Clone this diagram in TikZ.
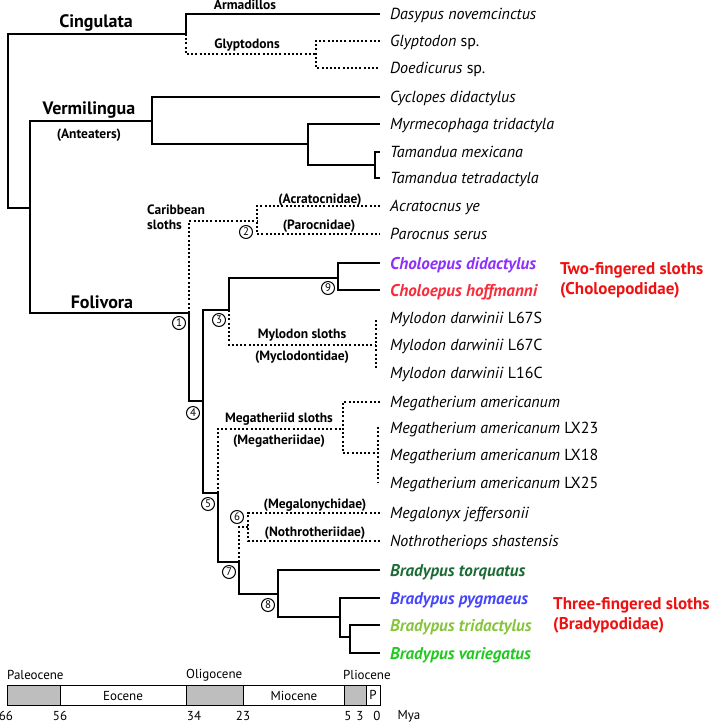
\documentclass[tikz,border=0pt]{standalone}
\usepackage{fontspec}
\setmainfont{PT Sans}
\definecolor{cpurple}{HTML}{8E2EFF}
\definecolor{cred}{HTML}{F72D3C}
\definecolor{lred}{HTML}{EE1111}
\definecolor{bdark}{HTML}{1B6B35}
\definecolor{bblue}{HTML}{4545FF}
\definecolor{bylw}{HTML}{86C43C}
\definecolor{bgreen}{HTML}{1FC91F}
\definecolor{pgray}{HTML}{BEBEBE}
\newcommand\spfont{\fontsize{16}{18}\selectfont\itshape}
\newcommand\bspfont{\fontsize{17}{19}\selectfont\itshape\bfseries}
\newcommand\bigfont{\fontsize{18}{21}\selectfont\bfseries}
\newcommand\smfont{\fontsize{13.5}{15}\selectfont\bfseries}
\newcommand\tmfont{\fontsize{13}{15}\selectfont}
\tikzset{
  br/.style={line width=2.2pt},
  dt/.style={line width=2pt, dash pattern=on 2pt off 2.2pt},
  sp/.style={anchor=base west, inner sep=0pt, font=\spfont},
  bsp/.style={anchor=base west, inner sep=0pt, font=\bspfont},
  big/.style={inner sep=0pt, font=\bigfont},
  sm/.style={inner sep=0pt, font=\smfont},
  circ/.style={circle, draw, line width=1pt, minimum size=13pt, inner sep=0pt, font=\fontsize{11}{11}\selectfont},
  rl/.style={anchor=base west, inner sep=0pt, font=\fontsize{17}{20}\selectfont\bfseries, text=lred},
  tm/.style={inner sep=0pt, font=\tmfont},
  per/.style={draw, line width=0.8pt}
}
\begin{document}
\begin{tikzpicture}[x=1pt,y=-1pt]
\useasboundingbox (0,0) rectangle (709,724);
% species labels
\node[sp] (s0) at (390,19.5) {Dasypus novemcinctus};
\node[sp] (s1) at (390,46.5) {Glyptodon \textup{sp.}};
\node[sp] (s2) at (390,73.5) {Doedicurus \textup{sp.}};
\node[sp] (s3) at (390,102.5) {Cyclopes didactylus};
\node[sp] (s4) at (390,129.5) {Myrmecophaga tridactyla};
\node[sp] (s5) at (390,157.5) {Tamandua mexicana};
\node[sp] (s6) at (390,183.5) {Tamandua tetradactyla};
\node[sp] (s7) at (390,211.5) {Acratocnus ye};
\node[sp] (s8) at (390,239.5) {Parocnus serus};
\node[bsp,text=cpurple] (s9) at (390,269) {Choloepus didactylus};
\node[bsp,text=cred] (s10) at (390,296) {Choloepus hoffmanni};
\node[sp] (s11) at (390,323.5) {Mylodon darwinii \textup{L67S}};
\node[sp] (s12) at (390,350.5) {Mylodon darwinii \textup{L67C}};
\node[sp] (s13) at (390,378.5) {Mylodon darwinii \textup{L16C}};
\node[sp] (s14) at (390,407.5) {Megatherium americanum};
\node[sp] (s15) at (390,433.5) {Megatherium americanum \textup{LX23}};
\node[sp] (s16) at (390,460.5) {Megatherium americanum \textup{LX18}};
\node[sp] (s17) at (390,488.5) {Megatherium americanum \textup{LX25}};
\node[sp] (s18) at (390,518.5) {Megalonyx jeffersonii};
\node[sp] (s19) at (390,546.5) {Nothrotheriops shastensis};
\node[bsp,text=bdark] (s20) at (390,576) {Bradypus torquatus};
\node[bsp,text=bblue] (s21) at (390,604) {Bradypus pygmaeus};
\node[bsp,text=bylw] (s22) at (390,631) {Bradypus tridactylus};
\node[bsp,text=bgreen] (s23) at (390,659) {Bradypus variegatus};
% leaf end points
\coordinate (e0) at (380,14);
\coordinate (e1) at (380,41);
\coordinate (e2) at (380,68);
\coordinate (e3) at (380,97);
\coordinate (e4) at (380,124);
\coordinate (e5) at (380,152);
\coordinate (e6) at (380,178);
\coordinate (e7) at (380,206);
\coordinate (e8) at (380,234);
\coordinate (e9) at (380,263);
\coordinate (e10) at (380,290);
\coordinate (e14) at (380,402);
\coordinate (e18) at (380,513);
\coordinate (e19) at (380,541);
\coordinate (e20) at (380,570);
\coordinate (e21) at (380,598);
\coordinate (e22) at (380,625);
\coordinate (e23) at (380,653);
% internal nodes
\coordinate (root) at (8,121);
\coordinate (nC) at (186,34);
\coordinate (nG) at (316,54);
\coordinate (nP) at (30,208);
\coordinate (nV) at (152,121);
\coordinate (nA) at (308,144);
\coordinate (nT) at (375,165);
\coordinate (n1) at (189,313);
\coordinate (n2) at (257,221);
\coordinate (n4) at (203,401);
\coordinate (n3) at (229,310);
\coordinate (n9) at (338,278);
\coordinate (nM) at (376,345);
\coordinate (mT) at (376,320);
\coordinate (mB) at (376,370);
\coordinate (n5) at (218,493);
\coordinate (nMg) at (343,429);
\coordinate (nMs) at (378,453);
\coordinate (msT) at (378,427);
\coordinate (msB) at (378,482);
\coordinate (n7) at (239,562);
\coordinate (n6) at (248,527);
\coordinate (n8) at (278,594);
\coordinate (n10) at (340,617);
\coordinate (n11) at (350,637);
% solid branches
\draw[br] (nC) -| (root) |- (nP);
\draw[br] (e0) -| (nC);
\draw[br] (nV) -| (nP) |- (n1);
\draw[br] (e3) -| (nV) |- (nA);
\draw[br] (e4) -| (nA) |- (nT);
\draw[br] (e5) -| (nT) |- (e6);
\draw[br] (n1) |- (n4);
\draw[br] (n3) -| (n4) |- (n5);
\draw[br] (n9) -| (n3);
\draw[br] (e9) -| (n9) |- (e10);
\draw[br] (n5) |- (n7);
\draw[br] (n7) |- (n8);
\draw[br] (e20) -| (n8) |- (n10);
\draw[br] (e21) -| (n10) |- (n11);
\draw[br] (e22) -| (n11) |- (e23);
% dotted branches
\draw[dt] (nC) |- (nG);
\draw[dt] (e1) -| (nG) |- (e2);
\draw[dt] (n1) |- (n2);
\draw[dt] (e7) -| (n2) |- (e8);
\draw[dt] (n3) |- (nM);
\draw[dt] (mT) -- (mB);
\draw[dt] (n5) |- (nMg);
\draw[dt] (e14) -| (nMg) |- (nMs);
\draw[dt] (msT) -- (msB);
\draw[dt] (n7) |- (n6);
\draw[dt] (e18) -| (n6) |- (e19);
% clade labels
\node[big] (lCing) at (96,23) {Cingulata};
\node[big] (lVerm) at (89,110) {Vermilingua};
\node[big] (lFol) at (102,302) {Folivora};
\node[sm] (lArm) at (245,5) {Armadillos};
\node[sm] (lGly) at (247,45) {Glyptodons};
\node[sm] (lAnt) at (89,135) {(Anteaters)};
\node[sm, align=left, anchor=west] (lCar) at (147,217) {Caribbean\\sloths};
\node[sm] (lAcr) at (320,200) {(Acratocnidae)};
\node[sm] (lPar) at (319,226) {(Parocnidae)};
\node[sm] (lMyl) at (302,335) {Mylodon sloths};
\node[sm] (lMyc) at (302,357) {(Myclodontidae)};
\node[sm] (lMeg) at (279,419) {Megatheriid sloths};
\node[sm] (lMegf) at (279,441) {(Megatheriidae)};
\node[sm] (lMlo) at (315,505) {(Megalonychidae)};
\node[sm] (lNot) at (315,533) {(Nothrotheriidae)};
% right labels
\node[rl] (r1) at (560,274) {Two-fingered sloths};
\node[rl] (r2) at (560,294) {(Choloepodidae)};
\node[rl] (r3) at (553,609) {Three-fingered sloths};
\node[rl] (r4) at (553,629) {(Bradypodidae)};
% node numbers
\node[circ] (c1) at (179,323) {1};
\node[circ] (c2) at (246,232) {2};
\node[circ] (c3) at (219,320) {3};
\node[circ] (c4) at (193,413) {4};
\node[circ] (c5) at (208,504) {5};
\node[circ] (c6) at (237,517) {6};
\node[circ] (c7) at (229,572) {7};
\node[circ] (c8) at (268,605) {8};
\node[circ] (c9) at (328,288) {9};
% time scale
\draw[per, fill=pgray] (7,685) rectangle (60,705);
\draw[per, fill=white] (60,685) rectangle (186,705);
\draw[per, fill=pgray] (186,685) rectangle (243,705);
\draw[per, fill=white] (243,685) rectangle (344,705);
\draw[per, fill=pgray] (344,685) rectangle (366,705);
\draw[per, fill=white] (366,685) rectangle (380,705);
\node[tm] (tEo) at (123,696) {Eocene};
\node[tm] (tMi) at (294,696) {Miocene};
\node[tm] (tP) at (373,695) {P};
\node[tm, anchor=west] (tPa) at (7,675) {Paleocene};
\node[tm, anchor=west] (tOl) at (186,675) {Oligocene};
\node[tm, anchor=west] (tPl) at (343,675) {Pliocene};
\node[tm] (y66) at (6,716) {66};
\node[tm] (y56) at (60,716) {56};
\node[tm] (y34) at (194,716) {34};
\node[tm] (y23) at (243,716) {23};
\node[tm] (y5) at (348,716) {5};
\node[tm] (y3) at (360,716) {3};
\node[tm] (y0) at (377,716) {0};
\node[tm] (ymya) at (409,716) {Mya};
\end{tikzpicture}
\end{document}
